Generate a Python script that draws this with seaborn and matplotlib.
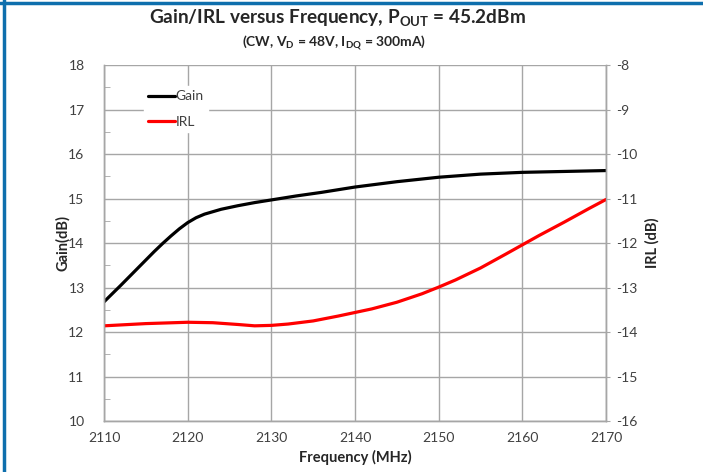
import numpy as np
import pandas as pd
import seaborn as sns
import matplotlib.pyplot as plt
from matplotlib.lines import Line2D
from matplotlib.ticker import MultipleLocator

# values
gain_freq = [2110, 2112, 2114, 2116, 2117, 2118, 2119, 2120, 2121, 2122, 2124, 2126, 2128,
             2130, 2133, 2136, 2140, 2145, 2150, 2155, 2160, 2165, 2170]
gain = [12.68, 13.05, 13.43, 13.81, 13.99, 14.16, 14.32, 14.46, 14.57, 14.65, 14.76, 14.84, 14.91,
        14.97, 15.06, 15.14, 15.26, 15.38, 15.48, 15.55, 15.59, 15.61, 15.63]

irl_freq = [2110, 2115, 2120, 2123, 2126, 2128, 2130, 2132, 2135, 2138, 2140, 2142, 2145,
            2148, 2150, 2152, 2155, 2158, 2160, 2162, 2165, 2168, 2170]
irl = [-13.86, -13.81, -13.78, -13.79, -13.83, -13.86, -13.85, -13.82, -13.75, -13.64, -13.56, -13.48, -13.33,
       -13.14, -12.99, -12.83, -12.56, -12.25, -12.04, -11.83, -11.53, -11.22, -11.02]

gain_df = pd.DataFrame({'freq': gain_freq, 'gain': gain})
irl_df = pd.DataFrame({'freq': irl_freq, 'irl': irl})

sns.set_style('white')
plt.rcParams['font.family'] = ['Lato', 'DejaVu Sans']
plt.rcParams['mathtext.fontset'] = 'custom'
plt.rcParams['mathtext.rm'] = 'Lato'
plt.rcParams['mathtext.bf'] = 'Lato:bold'
plt.rcParams['axes.unicode_minus'] = False

txt = '#404040'
grid = '#A6A6A6'

fig = plt.figure(figsize=(7.03, 4.72), dpi=100)
ax = fig.add_axes([0.148, 0.108, 0.714, 0.754])
ax2 = ax.twinx()

sns.lineplot(data=gain_df, x='freq', y='gain', ax=ax, color='black', lw=2.3)
sns.lineplot(data=irl_df, x='freq', y='irl', ax=ax2, color='#FF0000', lw=2.3)

ax.set_xlim(2110, 2170)
ax.set_ylim(10, 18)
ax2.set_ylim(-16, -8)
ax.xaxis.set_major_locator(MultipleLocator(10))
ax.xaxis.set_minor_locator(MultipleLocator(2))
ax.yaxis.set_major_locator(MultipleLocator(1))
ax.yaxis.set_minor_locator(MultipleLocator(0.5))
ax2.yaxis.set_major_locator(MultipleLocator(1))

ax.grid(True, which='major', color=grid, lw=1.0)
ax.set_axisbelow(True)
for a in (ax, ax2):
    for s in a.spines.values():
        s.set_color(grid)
        s.set_linewidth(1.0)
ax.spines['top'].set_visible(False)
ax2.spines['top'].set_visible(False)

ax.tick_params(axis='x', which='major', length=0, pad=8, labelsize=10, labelcolor=txt)
ax.tick_params(axis='x', which='minor', direction='in', length=4, color=grid)
ax.tick_params(axis='y', which='major', length=0, pad=14, labelsize=10, labelcolor=txt)
ax.tick_params(axis='y', which='minor', direction='in', length=4, color=grid)
ax2.tick_params(axis='y', which='major', direction='out', length=3, color=grid, pad=4,
                labelsize=10, labelcolor=txt)

ax.set_xlabel('Frequency (MHz)', fontsize=10.5, fontweight='bold', color='#262626', labelpad=4)
ax.set_ylabel('Gain(dB)', fontsize=10.5, fontweight='bold', color='#262626', labelpad=-1)
ax2.set_ylabel('IRL (dB)', fontsize=10.5, fontweight='bold', color='#262626', labelpad=6)

fig.text(0.48, 0.962, r'Gain/IRL versus Frequency, P$_{\mathbf{OUT}}$ = 45.2dBm',
         ha='center', va='center', fontsize=13.7, fontweight='bold', color='#262626')
fig.text(0.475, 0.909, r'(CW, V$_{\mathbf{D}}$ = 48V, I$_{\mathbf{DQ}}$ = 300mA)',
         ha='center', va='center', fontsize=10, fontweight='bold', color='#262626')

handles = [Line2D([], [], color='black', lw=2.3), Line2D([], [], color='#FF0000', lw=2.3)]
leg = ax2.legend(handles, ['Gain', 'IRL'], loc='upper left', bbox_to_anchor=(0.195, 0.832),
                 bbox_transform=fig.transFigure, frameon=True, fancybox=False, framealpha=1,
                 edgecolor='white', handlelength=1.9, handletextpad=0.05, labelspacing=0.95,
                 fontsize=10, borderpad=0.3)
for t in leg.get_texts():
    t.set_color(txt)

# blue frame on top and left
fig.add_artist(Line2D([0, 1], [0.9945, 0.9945], transform=fig.transFigure, color='#0E6FAD', lw=2.5))
fig.add_artist(Line2D([0.005, 0.005], [0, 1], transform=fig.transFigure, color='#0E6FAD', lw=2.5))

fig.savefig('out.png', dpi=100)
